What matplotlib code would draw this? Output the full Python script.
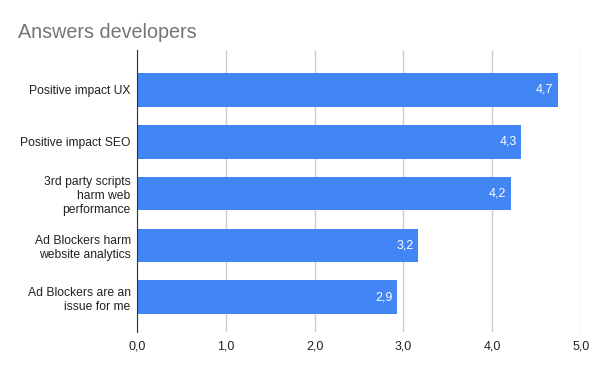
import matplotlib
matplotlib.use("Agg")
import matplotlib.pyplot as plt

# data
labels = ["Positive impact UX", "Positive impact SEO", "3rd party scripts\nharm web\nperformance",
          "Ad Blockers harm\nwebsite analytics", "Ad Blockers are an\nissue for me"]
values = [4.74, 4.33, 4.21, 3.17, 2.93]
xticks = [0, 1, 2, 3, 4, 5]

plt.rcParams['font.family'] = ['Liberation Sans', 'DejaVu Sans']

fig = plt.figure(figsize=(6, 3.71), dpi=100)
ax = fig.add_axes([0.2283, 0.1051, 0.74, 0.7601])

pos = list(range(len(labels)))
ax.barh(pos, values, height=0.65, color="#4285F4", zorder=3)

for p, v in zip(pos, values):
   txt = ("%.1f" % v).replace('.', ',')
   ax.annotate(txt, (v, p), xytext=(-3.5, 0), textcoords="offset points",
               ha="right", va="center", color="white", fontsize=9, zorder=4)

ax.set_xlim(0, 5)
ax.set_ylim(4.67, -0.77)
ax.set_xticks(xticks)
ax.set_xticklabels([("%.1f" % t).replace('.', ',') for t in xticks], fontsize=9, color="#222222")
ax.set_yticks(pos)
ax.set_yticklabels(labels, fontsize=8.7, color="#222222")
ax.tick_params(length=0)
ax.tick_params(axis='y', pad=4.5)
ax.tick_params(axis='x', pad=6)

ax.grid(axis='x', color="#cccccc", linewidth=1, zorder=0)
for s in ["top", "right", "bottom"]:
   ax.spines[s].set_visible(False)
ax.spines["left"].set_color("#333333")
ax.spines["left"].set_zorder(5)

fig.text(18 / 600, 1 - 33 / 371, "Answers developers", fontsize=14.2, color="#757575", va="center", ha="left")

fig.savefig("out.png", dpi=100)
